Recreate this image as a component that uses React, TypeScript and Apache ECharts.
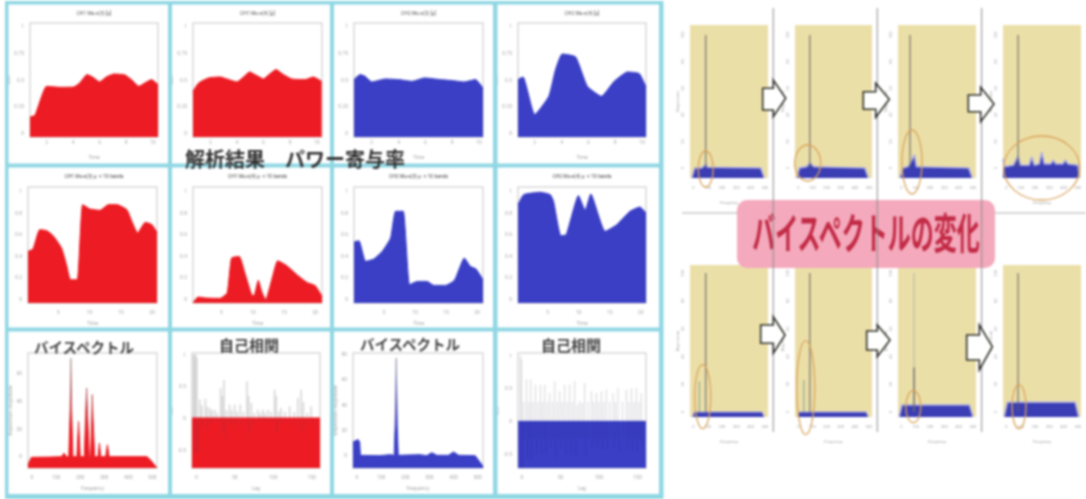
import React, { useEffect, useRef } from "react";
import * as echarts from "echarts";

type P = [number, number];

// ---------- left block : power contribution ----------
const gainA: P[] = [[0.75,0.15],[1.125,0.166],[2,0.4375],[3,0.428],[4.05,0.431],[4.5,0.469],[5.05,0.547],[5.5,0.522],[6,0.478],[6.5,0.525],[7.1,0.553],[7.9,0.544],[8.4,0.5],[8.95,0.4375],[9.5,0.475],[9.9,0.5],[10.4,0.453]];
const gainB: P[] = [[0.7,0.39],[1.125,0.469],[1.875,0.516],[2.75,0.525],[3.25,0.506],[4,0.478],[4.5,0.525],[4.95,0.572],[5.5,0.5375],[6,0.506],[6.5,0.556],[6.95,0.594],[7.5,0.547],[8.125,0.506],[9.125,0.5],[9.75,0.525],[10.375,0.484]];
const gainC: P[] = [[0.675,0.5],[1.125,0.547],[1.5,0.531],[2,0.478],[3,0.506],[4,0.5],[5,0.484],[5.95,0.516],[7.1,0.5],[8.1,0.49],[8.875,0.478],[9.75,0.5],[10.3,0.42]];
const gainD: P[] = [[0.75,0.5],[1.125,0.525],[2,0.172],[3.05,0.344],[3.55,0.594],[4.05,0.74],[5.05,0.7125],[5.925,0.4375],[6.975,0.344],[7.925,0.484],[8.925,0.572],[9.8,0.556],[10.3,0.431]];
const powerA: P[] = [[0.18,0.441],[0.98,0.463],[2.05,0.643],[3.125,0.634],[4.2,0.587],[5.54,0.472],[6.34,0.317],[6.98,0.177],[8.05,0.177],[8.91,0.876],[10.09,0.835],[11.7,0.823],[13.04,0.876],[14.375,0.876],[15.98,0.829],[16.79,0.72],[17.7,0.612],[18.93,0.711],[20,0.689],[20.8,0.618]];
const powerB: P[] = [[0.45,-0.04],[1.25,0.016],[2.59,0.006],[4.73,0.003],[5.91,0.053],[6.61,0.379],[7.84,0.394],[8.75,0.239],[9.82,0.037],[10.2,0.028],[10.89,0.171],[11.43,0.068],[12.07,-0.009],[13.04,0.177],[14,0.354],[15.45,0.307],[17.05,0.224],[18.66,0.152],[20,0.121],[21.07,0.022]];
const powerC: P[] = [[0.18,0.528],[0.98,0.54],[2.05,0.348],[3.39,0.37],[4.73,0.441],[6.07,0.565],[6.875,0.814],[8.11,0.814],[9.125,0.13],[10.36,0.161],[11.96,0.161],[13.04,0.124],[14.91,0.124],[16.36,0.171],[17.96,0.379],[18.93,0.301],[19.84,0.276],[20.96,0.177]];
const powerD: P[] = [[0.23,0.876],[1.14,0.969],[3.82,0.991],[5.43,0.969],[5.96,0.907],[7.14,0.587],[8,0.596],[9.98,0.96],[11.05,0.823],[11.96,0.975],[14.27,0.627],[16.14,0.689],[18.29,0.814],[19.89,0.854],[20.86,0.798]];
const bispecRed: P[] = [[-16.7,-6],[-2.8,-0.7],[74,-0.5],[122.6,-0.2],[133.7,2.4],[142,-0.2],[153,-0.2],[158.8,35],[161.6,71],[164.4,35],[170,-0.2],[186.7,-0.2],[193.6,25.3],[200.6,-0.2],[217.3,-0.2],[222.9,30],[227,49.4],[231.2,30],[238.2,-0.2],[243.8,-0.2],[248,27.7],[250.7,44.6],[253.5,27.7],[260.5,-0.2],[274.4,-0.2],[280,9.6],[285.6,-0.2],[306.5,-0.2],[313.4,8.4],[320.4,-0.2],[477.8,-0.2],[491.7,-2.4],[519.6,-8.4]];
const bispecBlue: P[] = [[-16.7,10.5],[4.2,12.4],[11,10.5],[13.9,0],[94.5,-0.3],[136,0.5],[154,0],[158,24.2],[162.5,76.8],[166.7,24.2],[170.8,0],[219.5,0.3],[261,0.5],[289,-0.3],[309.7,2.1],[330.6,0],[379,0],[400,2.6],[421,0],[490,-0.3],[522,-8.7]];
const acfRedPeaks: P[] = [[-3,1],[-1.5,1],[0,1],[1.5,0.95],[5.2,0.29],[7.8,0.2],[12.5,0.305],[15,0.18],[18.2,0.158],[21,0.12],[24.6,0.13],[28,0.08],[32.4,0.47],[34.6,0.35],[36.7,0.6],[40,0.12],[44,0.21],[47,0.12],[50.6,0.21],[54,0.1],[57.9,0.21],[62,0.1],[66.6,0.58],[68.7,0.35],[72.2,0.237],[76,0.08],[80.8,0.13],[84,0.08],[87.3,0.13],[90,0.08],[93.8,0.13],[98,0.1],[102.5,0.447],[104.6,0.35],[108,0.1],[111,0.158],[116,0.1],[122,0.184],[128,0.1],[132.7,0.316],[137,0.447],[140,0.25],[145,0.08],[150,0.184]];
const acfBluePeaks: P[] = [[-1,1],[0,0.94],[3,0.3],[6.5,0.635],[9.5,0.3],[12.1,0.635],[15,0.3],[18.2,0.558],[21.5,0.3],[24.6,0.558],[27.5,0.3],[30.3,0.558],[33.5,0.3],[36.7,0.431],[40,0.3],[43.2,0.609],[46.5,0.3],[49.7,0.457],[53,0.3],[56.2,0.558],[59.5,0.3],[62.7,0.558],[66,0.3],[69.2,0.609],[72.5,0.25],[75.7,0.305],[79,0.28],[82.1,0.584],[86.5,0.3],[90.8,0.457],[94,0.3],[97.3,0.431],[100.5,0.3],[103.8,0.457],[107,0.3],[110.2,0.482],[114.5,0.3],[118.9,0.431],[122,0.3],[125.4,0.508],[131,0.3],[136.2,0.482],[139.5,0.3],[142.7,0.508],[146,0.3],[149.1,0.508],[152.5,0.3],[155.6,0.431]];
const acfRedFloor: P[] = [[-5.6,0],[160.8,0]];
const acfBlueFloor: P[] = [[-5.2,0],[161,0]];

const gainXTicks = [2, 4, 6, 8, 10];
const gainYTicks = [0, 0.25, 0.5, 0.75, 1];
const powerXTicks = [5, 10, 15, 20];
const powerYTicks = [0, 0.2, 0.4, 0.6, 0.8, 1];
const bispecXTicks = [0, 100, 200, 300, 400, 500];
const bispecRedYTicks = [0, 20, 40, 60];
const bispecBlueYTicks = [0, 20, 40, 60, 80];
const acfXTicks = [0, 50, 100, 150];
const acfYTicks = [-0.5, 0, 0.5, 1];

const gainTitles = ["CH1 Mu-x(3) [μ]", "CH1 Mu-x(4) [μ]", "CH2 Mu-x(3) [μ]", "CH2 Mu-x(4) [μ]"];
const powerTitles = ["CH1 Mu-x(3) μ  × 10 bands", "CH1 Mu-x(4) μ  × 10 bands", "CH2 Mu-x(3) μ  × 10 bands", "CH2 Mu-x(4) μ  × 10 bands"];
const gainXNames = ["Time", "", "Time", "Time"];

// ---------- right block : change of the bispectrum ----------
const miniTopBands: P[][] = [
  [[-10,-7.5],[10,0],[60,0],[75,1.5],[87,3],[100,0.5],[470,0],[495,-7.5]],
  [[-10,-7.5],[8,0],[60,1],[82,4],[110,1],[470,0],[495,-7.5]],
  [[-10,-7.5],[12,0],[45,1],[61,3],[91,10],[105,1],[470,0],[495,-7.5]],
  [[-23,7],[-15,1],[50,2],[82,9],[100,2],[160,2],[177,8.5],[195,2],[230,3],[247,12],[265,3],[310,3],[328,6],[345,3],[395,3],[410,6],[430,3],[500,2],[509,-7.5]],
];
const miniBottomBands: P[][] = [
  [[-5,-3.6],[5,0],[480,0],[495,-3.6]],
  [[-5,-3.6],[5,0],[480,0],[495,-3.6]],
  [[-15,-3.6],[5,5],[475,5],[500,-3.6]],
  [[-15,-3.6],[8,7],[480,7],[505,-3.6]],
];
const miniTopSpikes: P[] = [[87,100],[82,100],[61,100],[82,100]];
const miniBottomSpikes: P[] = [[87,100],[82,100],[89,100],[82,100]];
const miniBottomSideSpikes: (P | null)[] = [[42,22],[40,23],null,null];
const miniXTicks = [0, 100, 200, 300, 400, 500];
const miniYTicks = [0, 20, 40, 60, 80, 100];

const RED = "#ED1C24";
const BLUE = "#3A3FC6";
const FRAME = "#8FD7E3";
const CREAM = "#EBDFA8";
const TICK = "#a8a8a8";
const CJK = '"Noto Sans CJK JP", "Noto Sans", sans-serif';

const colX = [
  [30, 158],
  [193, 322],
  [354, 483],
  [518, 646],
];
const miniX = [
  [690, 768],
  [795, 872],
  [898, 976],
  [1003, 1081],
];

function buildOption() {
  const grid: any[] = [];
  const xAxis: any[] = [];
  const yAxis: any[] = [];
  const series: any[] = [];

  const addPanel = (o: {
    rect: number[];
    xr: number[];
    yr: number[];
    xt: number[];
    yt: number[];
    xn?: string;
    yn?: string;
    xGap?: number;
    yGap?: number;
    bg?: string;
    border?: string;
    font?: number;
    rotateY?: number;
    labelMargin?: number;
  }) => {
    const i = grid.length;
    const [l, t, r, b] = o.rect;
    grid.push({
      show: true,
      left: l,
      top: t,
      width: r - l,
      height: b - t,
      backgroundColor: o.bg || "#fff",
      borderColor: o.border || "#d9d9d9",
      borderWidth: o.border === "transparent" ? 0 : 1.5,
    });
    const f = o.font || 5;
    xAxis.push({
      type: "value",
      gridIndex: i,
      min: o.xr[0],
      max: o.xr[1],
      splitLine: { show: false },
      axisLine: { show: false, onZero: false },
      axisTick: { show: false },
      axisLabel: { customValues: o.xt, color: TICK, fontSize: f, margin: o.labelMargin || 6, fontFamily: "Roboto" },
      name: o.xn,
      nameLocation: "middle",
      nameGap: o.xGap || 16,
      nameTextStyle: { fontSize: f, color: TICK, fontFamily: "Roboto" },
    });
    yAxis.push({
      type: "value",
      gridIndex: i,
      min: o.yr[0],
      max: o.yr[1],
      splitLine: { show: false },
      axisLine: { show: false, onZero: false },
      axisTick: { show: false },
      axisLabel: { customValues: o.yt, color: TICK, fontSize: f, margin: 6, rotate: o.rotateY || 0, fontFamily: "Roboto" },
      name: o.yn,
      nameLocation: "middle",
      nameGap: o.yGap || 15,
      nameRotate: 90,
      nameTextStyle: { fontSize: f, color: TICK, fontFamily: "Roboto" },
    });
    return i;
  };

  const area = (i: number, data: P[], color: any, lineColor?: any, width = 1) =>
    series.push({
      type: "line",
      xAxisIndex: i,
      yAxisIndex: i,
      data,
      symbol: "none",
      silent: true,
      smooth: 0.15,
      lineStyle: { color: lineColor || color, width },
      areaStyle: { color, opacity: 1, origin: "start" },
      z: 3,
    });
  const sharp = (i: number, data: P[], color: any, lineColor?: any, width = 1) =>
    series.push({
      type: "line",
      xAxisIndex: i,
      yAxisIndex: i,
      data,
      symbol: "none",
      silent: true,
      lineStyle: { color: lineColor || color, width },
      areaStyle: { color, opacity: 1, origin: "start" },
      z: 3,
    });
  const bars = (i: number, data: P[], color: string, w = 2, z = 2) =>
    series.push({
      type: "bar",
      xAxisIndex: i,
      yAxisIndex: i,
      data,
      barWidth: w,
      silent: true,
      itemStyle: { color },
      z,
    });
  const spike = (i: number, x: number, base: number, top: number, color: string, width = 1) =>
    series.push({
      type: "line",
      xAxisIndex: i,
      yAxisIndex: i,
      data: [[x, base], [x, top]],
      symbol: "none",
      silent: true,
      lineStyle: { color, width },
      z: 4,
    });
  const mirror = (d: P[], k: number): P[] => d.map(([x, y]) => [x, -y * k]);

  // ---- row 1
  [gainA, gainB, gainC, gainD].forEach((d, c) => {
    const xr = [[0.75, 10.4], [0.7, 10.4], [0.675, 10.3], [0.75, 10.3]][c];
    const i = addPanel({ rect: [colX[c][0], 23, colX[c][1], 137], xr, yr: [-0.0375, 1.03], xt: gainXTicks, yt: gainYTicks, xn: gainXNames[c], yn: "Gain", xGap: 17, labelMargin: 2 });
    area(i, d, c < 2 ? RED : BLUE);
  });
  // ---- row 2
  [powerA, powerB, powerC, powerD].forEach((d, c) => {
    const xr = [[0.18, 20.8], [0.45, 21.07], [0.18, 20.96], [0.23, 20.86]][c];
    const i = addPanel({ rect: [colX[c][0] - (c === 0 ? 2 : 0), 187, colX[c][1] - (c === 0 ? 1 : 0), 303], xr, yr: [-0.04, 1.04], xt: powerXTicks, yt: powerYTicks, xn: "Time", xGap: 17 });
    area(i, d, c < 2 ? RED : BLUE);
  });
  // ---- row 3
  const redFade = { type: "linear", x: 0, y: 0, x2: 0, y2: 1, colorStops: [{ offset: 0, color: "#b5a5a5" }, { offset: 0.3, color: "#b9686c" }, { offset: 0.6, color: "#e02a30" }, { offset: 0.75, color: RED }, { offset: 1, color: RED }] };
  const blueFade = { type: "linear", x: 0, y: 0, x2: 0, y2: 1, colorStops: [{ offset: 0, color: "#a6a6bc" }, { offset: 0.4, color: "#6a6cb8" }, { offset: 0.7, color: BLUE }, { offset: 1, color: BLUE }] };
  let i = addPanel({ rect: [28, 353, 157, 468], xr: [-16.7, 519.6], yr: [-8.4, 74.7], xt: bispecXTicks, yt: bispecRedYTicks, xn: "Frequency", yn: "Bispectrum magnitude", xGap: 17, yGap: 14 });
  sharp(i, bispecRed, redFade);
  i = addPanel({ rect: [192, 353, 320, 468], xr: [-5.6, 160.8], yr: [-0.79, 1.026], xt: acfXTicks, yt: acfYTicks, xn: "Lag", yn: "ACF", xGap: 17, yGap: 14 });
  bars(i, acfRedPeaks, "#d4d4d4", 1.5);
  sharp(i, acfRedFloor, RED);
  bars(i, mirror(acfRedPeaks, 0.55), "#d3222b", 1, 4);
  i = addPanel({ rect: [353, 353, 483, 468], xr: [-16.7, 522], yr: [-10, 80.7], xt: bispecXTicks, yt: bispecBlueYTicks, xn: "Frequency", yn: "Bispectrum magnitude", xGap: 17, yGap: 14 });
  sharp(i, bispecBlue, blueFade);
  i = addPanel({ rect: [518, 353, 646, 468], xr: [-5.2, 161], yr: [-0.71, 1.04], xt: acfXTicks, yt: acfYTicks, xn: "Lag", yn: "ACF", xGap: 17, yGap: 14 });
  bars(i, acfBluePeaks, "#d5d5da", 1);
  sharp(i, acfBlueFloor, BLUE);
  bars(i, mirror(acfBluePeaks, 0.9), "#3437b0", 1, 4);

  // ---- right block
  const BAND = "#3B3DB4";
  const HALO = "#a9abe6";
  miniTopBands.forEach((d, c) => {
    const k = addPanel({ rect: [miniX[c][0], 25, miniX[c][1], 178], xr: [-23, 521], yr: [-7.5, 107.5], xt: miniXTicks, yt: miniYTicks, xn: "Frequency", yn: "Bispectrum", xGap: 22, yGap: 9, bg: CREAM, border: "transparent", font: 4, rotateY: 90, labelMargin: 7 });
    sharp(k, d, BAND, HALO, 1.5);
    spike(k, miniTopSpikes[c][0], 0, miniTopSpikes[c][1], "#5c5c60", 1);
  });
  miniBottomBands.forEach((d, c) => {
    const k = addPanel({ rect: [miniX[c][0], 265, miniX[c][1], 417], xr: [-23, 521], yr: [-3.6, 105.8], xt: miniXTicks, yt: miniYTicks, xn: "Frequency", yn: "Bispectrum", xGap: 22, yGap: 9, bg: CREAM, border: "transparent", font: 4, rotateY: 90, labelMargin: 7 });
    sharp(k, d, BAND, HALO, c < 2 ? 1 : 1.5);
    spike(k, miniBottomSpikes[c][0], 0, miniBottomSpikes[c][1], c === 2 ? "#b4b29e" : "#5c5c60", 1);
    if (c === 2) spike(k, miniBottomSpikes[c][0], 0, 32, "#4a4a55", 1);
    const side = miniBottomSideSpikes[c];
    if (side) spike(k, side[0], 0, side[1], "#7f9a90", 1);
  });

  // ---- graphic overlays
  const g: any[] = [];
  const bar = (x: number, y: number, w: number, h: number, fill: string, z = 1) =>
    g.push({ type: "rect", shape: { x, y, width: w, height: h }, style: { fill }, z, silent: true });
  // cyan frames
  [[5, 3.5], [168, 4], [330, 4], [493, 4.5], [659, 4.5]].forEach(([x, w]) => bar(x, 1, w, 498, FRAME));
  [[1, 3.5], [163.5, 4], [327.5, 4], [494, 5]].forEach(([y, h]) => bar(5, y, 658, h, FRAME));

  const label = (text: string, cx: number, cy: number, size: number, color: string, weight: any = "normal", z = 20, fam = "Roboto") =>
    g.push({ type: "text", x: cx, y: cy, z, silent: true, style: { text, fontSize: size, fill: color, fontWeight: weight, align: "center", verticalAlign: "middle", fontFamily: fam } });

  gainTitles.forEach((t, c) => label(t, (colX[c][0] + colX[c][1]) / 2, 13, 5, "#555"));
  powerTitles.forEach((t, c) => label(t, (colX[c][0] + colX[c][1]) / 2, 176, 5, "#444"));
  label("解析結果\u3000パワー寄与率", 295, 158.5, 20, "#333", "bold", 30, CJK);
  label("バイスペクトル", 84, 346, 14.5, "#444", "bold", 30, CJK);
  label("自己相関", 249, 344, 15, "#444", "bold", 30, CJK);
  label("バイスペクトル", 410, 343, 14.5, "#444", "bold", 30, CJK);
  label("自己相関", 571, 344, 15, "#444", "bold", 30, CJK);

  // banner, rule lines
  g.push({ type: "rect", z: 40, silent: true, shape: { x: 737, y: 200, width: 258, height: 68, r: 10 }, style: { fill: "#F4A9BC" } });
  g.push({ type: "line", z: 39, silent: true, shape: { x1: 682, y1: 213, x2: 1086, y2: 213 }, style: { stroke: "#c9c9c9", lineWidth: 1.5 } });
  g.push({ type: "text", z: 41, silent: true, x: 866, y: 230, scaleY: 1.85, style: { text: "バイスペクトルの変化", fontSize: 23, fill: "#C22A45", fontWeight: "bold", align: "center", verticalAlign: "middle", fontFamily: CJK } });
  [773.3, 877.3, 981.7].forEach((x) =>
    g.push({ type: "line", z: 42, silent: true, shape: { x1: x, y1: 8, x2: x, y2: 432 }, style: { stroke: "#8a8a8a", lineWidth: 1 } })
  );

  // ellipses
  const ellipses = [
    [705.7, 169, 7.5, 18], [807.7, 163, 13, 18], [912, 162, 10, 32], [1041.7, 168, 38, 32],
    [702.7, 396.7, 8, 32], [805.7, 387.7, 9, 47], [913.3, 406.7, 7.5, 16], [1019, 406.7, 7, 22],
  ];
  ellipses.forEach(([cx, cy, rx, ry]) =>
    g.push({ type: "ellipse", z: 45, silent: true, shape: { cx, cy, rx, ry }, style: { fill: "none", stroke: "#D9A35A", lineWidth: 1.3 } })
  );

  // arrows (x0, tail top, tail bottom, head x, head top, head bottom, tip x, tip y)
  const arrows = [
    [762.7, 88.3, 110, 773.3, 80, 116.7, 785.7, 98.3],
    [863.3, 91.7, 109.3, 875.7, 83.3, 117.3, 889.3, 99.3],
    [968.3, 95, 111.7, 980.7, 87.3, 121.7, 994, 104],
    [760.7, 325, 343.3, 773.3, 316.7, 353.3, 785, 335],
    [866.7, 331, 350, 877.3, 325, 356.7, 890, 340],
    [966.7, 335, 360, 979.3, 325, 370, 992.3, 346.7],
  ];
  arrows.forEach(([x0, t, b, hx, ht, hb, tx, ty]) =>
    g.push({
      type: "polygon", z: 46, silent: true,
      shape: { points: [[x0, t], [hx, t], [hx, ht], [tx, ty], [hx, hb], [hx, b], [x0, b]] },
      style: { fill: "#fff", stroke: "#2e2e26", lineWidth: 1.6 },
    })
  );

  return { animation: false, backgroundColor: "#fff", grid, xAxis, yAxis, series, graphic: g };
}

export default function App() {
  const ref = useRef<HTMLDivElement>(null);
  useEffect(() => {
    const chart = echarts.init(ref.current!, undefined, { renderer: "svg" });
    chart.setOption(buildOption() as any);
    return () => chart.dispose();
  }, []);
  return (
    <div
      ref={ref}
      style={{ position: "fixed", left: 0, top: 0, width: 1086, height: 499, filter: "blur(0.9px)" }}
    />
  );
}
